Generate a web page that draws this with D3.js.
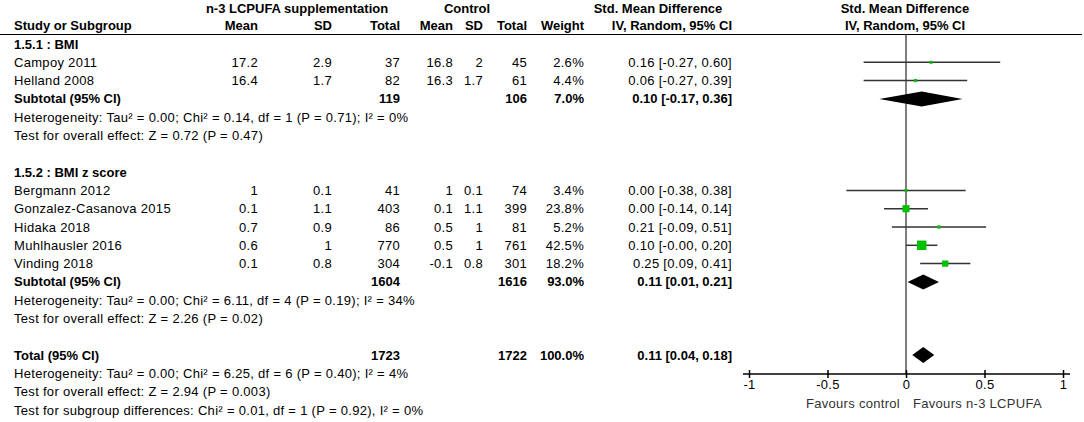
<!DOCTYPE html>
<html>
<head>
<meta charset="utf-8">
<script src="https://cdn.jsdelivr.net/npm/d3@7"></script>
<style>
  body { margin: 0; background: #fff; }
  svg text { font-family: "Liberation Sans", Arial, sans-serif; font-size: 13px; fill: #000; letter-spacing: 0.3px; }
  .bold { font-weight: bold; letter-spacing: 0; }
</style>
</head>
<body>
<svg id="chart" width="1084" height="422"></svg>
<script>
// ---- data ----
var studyNames = ["Campoy 2011", "Helland 2008",
  "Bergmann 2012", "Gonzalez-Casanova 2015", "Hidaka 2018", "Muhlhausler 2016", "Vinding 2018"];
var studyGroup = [0, 0, 1, 1, 1, 1, 1];
var expMean = [17.2, 16.4, 1, 0.1, 0.7, 0.6, 0.1];
var expSD = [2.9, 1.7, 0.1, 1.1, 0.9, 1, 0.8];
var expTotal = [37, 82, 41, 403, 86, 770, 304];
var ctlMean = [16.8, 16.3, 1, 0.1, 0.5, 0.5, -0.1];
var ctlSD = [2, 1.7, 0.1, 1.1, 1, 1, 0.8];
var ctlTotal = [45, 61, 74, 399, 81, 761, 301];
var weight = [2.6, 4.4, 3.4, 23.8, 5.2, 42.5, 18.2];
var smd = [0.16, 0.06, 0.00, 0.00, 0.21, 0.10, 0.25];
var ciLow = [-0.27, -0.27, -0.38, -0.14, -0.09, -0.00, 0.09];
var ciHigh = [0.60, 0.39, 0.38, 0.14, 0.51, 0.20, 0.41];

var groupTitles = ["1.5.1 : BMI", "1.5.2 : BMI z score"];
var groupExpTotal = [119, 1604];
var groupCtlTotal = [106, 1616];
var groupWeight = [7.0, 93.0];
var groupSmd = [0.10, 0.11];
var groupLow = [-0.17, 0.01];
var groupHigh = [0.36, 0.21];
var groupHetero = [
  "Heterogeneity: Tau\u00b2 = 0.00; Chi\u00b2 = 0.14, df = 1 (P = 0.71); I\u00b2 = 0%",
  "Heterogeneity: Tau\u00b2 = 0.00; Chi\u00b2 = 6.11, df = 4 (P = 0.19); I\u00b2 = 34%"];
var groupTest = ["Test for overall effect: Z = 0.72 (P = 0.47)",
  "Test for overall effect: Z = 2.26 (P = 0.02)"];

var totalExp = 1723, totalCtl = 1722, totalWeight = 100.0;
var totalSmd = 0.11, totalLow = 0.04, totalHigh = 0.18;
var totalNotes = [
  "Heterogeneity: Tau\u00b2 = 0.00; Chi\u00b2 = 6.25, df = 6 (P = 0.40); I\u00b2 = 4%",
  "Test for overall effect: Z = 2.94 (P = 0.003)",
  "Test for subgroup differences: Chi\u00b2 = 0.01, df = 1 (P = 0.92), I\u00b2 = 0%"];

var axisTicks = [-1, -0.5, 0, 0.5, 1];
var favourLeft = "Favours control";
var favourRight = "Favours n-3 LCPUFA";

// ---- layout ----
var svg = d3.select("#chart");
var colX = { name: 14, eMean: 258, eSD: 332, eTot: 400, cMean: 453, cSD: 483, cTot: 527, w: 584, ci: 732 };

var x = d3.scaleLinear().domain([-1, 1]).range([749, 1063]);
var rowY = d3.scaleLinear().domain([0, 1]).range([44, 62.3]);
var boxSize = d3.scaleSqrt().domain([0, 42.5]).range([0, 9.5]);

function fmt2(v) {
  return (v < 0 || Object.is(v, -0) ? "-" : "") + Math.abs(v).toFixed(2);
}
function ciText(e, lo, hi) {
  return fmt2(e) + " [" + fmt2(lo) + ", " + fmt2(hi) + "]";
}
function pct(v) { return v.toFixed(1) + "%"; }

function txt(xp, yp, s, anchor, bold) {
  return svg.append("text")
    .attr("x", xp).attr("y", yp).attr("dy", "0.35em")
    .attr("text-anchor", anchor || "start")
    .attr("class", bold ? "bold" : null)
    .text(s);
}

// headers
txt(297, 8, "n-3 LCPUFA supplementation", "middle", true);
txt(467, 8, "Control", "middle", true);
txt(658, 8, "Std. Mean Difference", "middle", true);
txt(905, 8, "Std. Mean Difference", "middle", true);
txt(colX.name, 25, "Study or Subgroup", "start", true);
txt(colX.eMean, 25, "Mean", "end", true);
txt(colX.eSD, 25, "SD", "end", true);
txt(colX.eTot, 25, "Total", "end", true);
txt(colX.cMean, 25, "Mean", "end", true);
txt(colX.cSD, 25, "SD", "end", true);
txt(colX.cTot, 25, "Total", "end", true);
txt(colX.w, 25, "Weight", "end", true);
txt(colX.ci, 25, "IV, Random, 95% CI", "end", true);
txt(905, 25, "IV, Random, 95% CI", "middle", true);

svg.append("line").attr("x1", 0).attr("x2", 1082).attr("y1", 34.5).attr("y2", 34.5)
  .attr("stroke", "#000").attr("stroke-width", 1.2);

// build row positions
var row = 0;
var studyRow = [], subRows = [];
groupTitles.forEach(function (g, gi) {
  txt(colX.name, rowY(row), g, "start", true);
  row++;
  studyNames.forEach(function (n, i) {
    if (studyGroup[i] === gi) { studyRow[i] = row; row++; }
  });
  subRows[gi] = row;
  row += 4;
});
var totalRow = row;

svg.append("line")
  .attr("x1", x(0)).attr("x2", x(0)).attr("y1", 34.5).attr("y2", 374)
  .attr("stroke", "#555").attr("stroke-width", 1.5);

// study rows
studyNames.forEach(function (n, i) {
  var y = rowY(studyRow[i]);
  txt(colX.name, y, n);
  txt(colX.eMean, y, String(expMean[i]), "end");
  txt(colX.eSD, y, String(expSD[i]), "end");
  txt(colX.eTot, y, String(expTotal[i]), "end");
  txt(colX.cMean, y, String(ctlMean[i]), "end");
  txt(colX.cSD, y, String(ctlSD[i]), "end");
  txt(colX.cTot, y, String(ctlTotal[i]), "end");
  txt(colX.w, y, pct(weight[i]), "end");
  txt(colX.ci, y, ciText(smd[i], ciLow[i], ciHigh[i]), "end");

  svg.append("line")
    .attr("x1", x(ciLow[i])).attr("x2", x(ciHigh[i]))
    .attr("y1", y).attr("y2", y)
    .attr("stroke", "#333").attr("stroke-width", 1.5);
  var s = Math.max(3, boxSize(weight[i]));
  svg.append("rect")
    .attr("x", x(smd[i]) - s / 2).attr("y", y - s / 2)
    .attr("width", s).attr("height", s)
    .attr("fill", "#00c000");
});

var diamond = d3.line();
function drawDiamond(y, e, lo, hi, h) {
  svg.append("path")
    .attr("d", diamond([[x(lo), y], [x(e), y - h], [x(hi), y], [x(e), y + h]]) + "Z")
    .attr("fill", "#000");
}

// subtotals
groupTitles.forEach(function (g, gi) {
  var r = subRows[gi];
  var y = rowY(r);
  txt(colX.name, y, "Subtotal (95% CI)", "start", true);
  txt(colX.eTot, y, String(groupExpTotal[gi]), "end", true);
  txt(colX.cTot, y, String(groupCtlTotal[gi]), "end", true);
  txt(colX.w, y, pct(groupWeight[gi]), "end", true);
  txt(colX.ci, y, ciText(groupSmd[gi], groupLow[gi], groupHigh[gi]), "end", true);
  txt(colX.name, rowY(r + 1), groupHetero[gi]);
  txt(colX.name, rowY(r + 2), groupTest[gi]);
  drawDiamond(y, groupSmd[gi], groupLow[gi], groupHigh[gi], 7.5);
});

// total
var ty = rowY(totalRow);
txt(colX.name, ty, "Total (95% CI)", "start", true);
txt(colX.eTot, ty, String(totalExp), "end", true);
txt(colX.cTot, ty, String(totalCtl), "end", true);
txt(colX.w, ty, pct(totalWeight), "end", true);
txt(colX.ci, ty, ciText(totalSmd, totalLow, totalHigh), "end", true);
totalNotes.forEach(function (s, k) { txt(colX.name, rowY(totalRow + 1 + k), s); });
drawDiamond(ty, totalSmd, totalLow, totalHigh, 8);

// axis
var axisY = 374;
var axis = d3.axisBottom(x).tickValues(axisTicks).tickSize(4).tickPadding(4)
  .tickFormat(function (d) { return String(d); });
var ag = svg.append("g").attr("transform", "translate(0," + axisY + ")").call(axis);
ag.select(".domain").remove();
ag.append("line").attr("x1", x.range()[0] - 6).attr("x2", x.range()[1] + 7)
  .attr("stroke", "#000").attr("stroke-width", 1.5);
ag.selectAll(".tick line").attr("y1", -4).attr("y2", 4).attr("stroke-width", 1.5);
ag.selectAll(".tick text").style("font-family", "Liberation Sans, Arial, sans-serif")
  .style("font-size", "13px").attr("y", 6).attr("fill", "#000");

txt(x(0) - 6, 403, favourLeft, "end").style("fill", "#333");
txt(x(0) + 7, 403, favourRight, "start").style("fill", "#333");
</script>
</body>
</html>
